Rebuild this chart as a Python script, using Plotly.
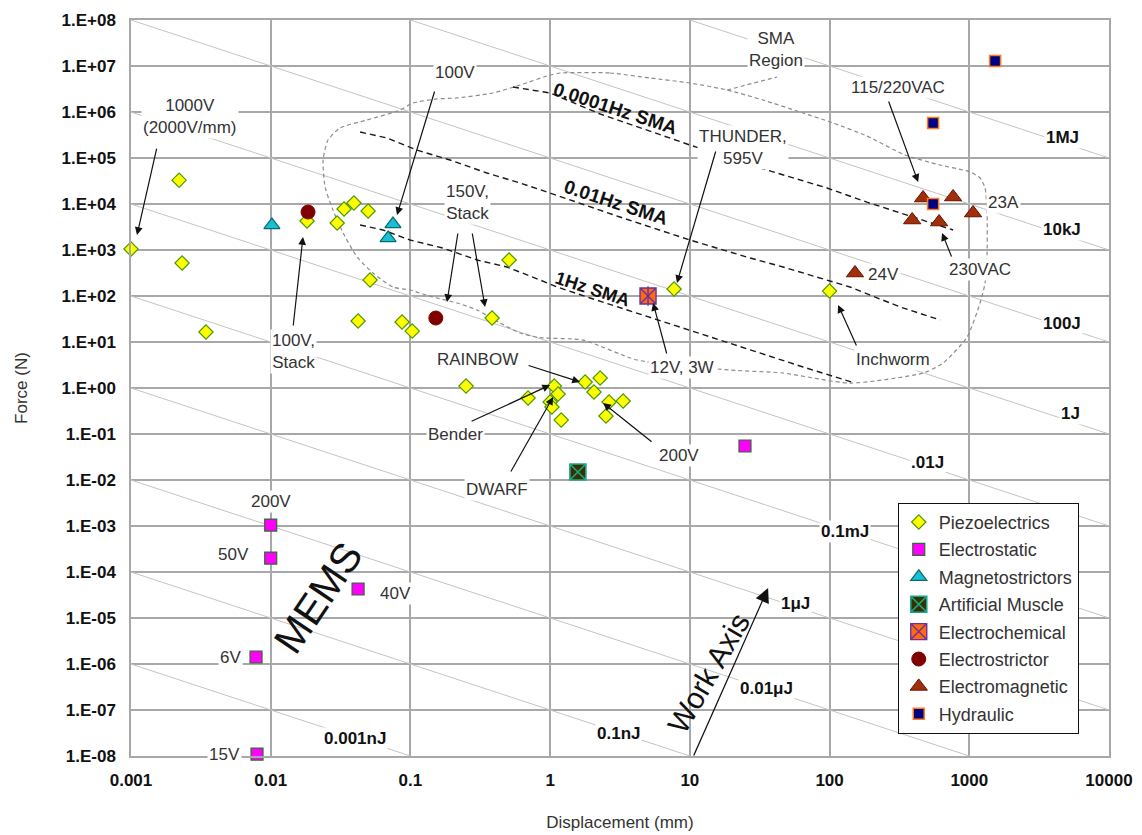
import math
import plotly.graph_objects as go

# ---------------- data (displacement in mm, force in N) ----------------
piezo_disp = [0.001, 0.00221, 0.00232, 0.00344, 0.0182, 0.0299, 0.0335, 0.0394, 0.0498, 0.0514,
              0.0422, 0.0871, 0.103, 0.384, 0.25, 0.695, 1.07, 1.14, 1.0, 1.03,
              1.2, 1.78, 2.28, 2.06, 2.64, 3.33, 2.51, 7.71, 100, 0.508]
piezo_force = [1050, 3.3e4, 521, 16.5, 4270, 3860, 7790, 1.05e4, 7050, 223,
               28.6, 27.2, 17.3, 33.2, 1.10, 0.607, 1.10, 0.741, 0.497, 0.386,
               0.201, 1.35, 1.65, 0.819, 0.497, 0.521, 0.246, 142, 128, 607]

estat_disp = [0.01, 0.01, 0.0422, 0.00785, 0.00798, 24.8]
estat_force = [1.05e-3, 2.01e-4, 4.27e-5, 1.42e-6, 1.10e-8, 0.0548]

magneto_disp = [0.0102, 0.075, 0.0692]
magneto_force = [3490, 3670, 1820]

muscle_disp = [1.58]
muscle_force = [0.0149]

echem_disp = [5.02]
echem_force = [100]

estrict_disp = [0.0185, 0.152]
estrict_force = [6700, 33.2]

emag_disp = [467, 766, 390, 608, 1064, 152]
emag_force = [1.35e4, 1.42e4, 4490, 4060, 6370, 316]

hydr_disp = [1530, 551, 551]
hydr_force = [1.28e7, 5.77e5, 1.0e4]

# constant-work lines: force * displacement (N*mm)
work_consts = [1e9, 1e7, 1e5, 1e3, 1e1, 1e-1, 1e-3, 1e-5, 1e-7, 1e-9]
work_labels = ["1MJ", "10kJ", "100J", "1J", ".01J", "0.1mJ", "1\u03bcJ", "0.01\u03bcJ", "0.1nJ", "0.001nJ"]

# SMA curves
sma_0001_disp = [0.542, 1.0, 2.28, 10.0, 31.8, 95.9, 185, 423, 766]
sma_0001_force = [3.49e6, 2.59e6, 9.05e5, 1.92e5, 6.07e4, 2.23e4, 1.10e4, 4.97e3, 2.72e3]

sma_001_disp = [0.0436, 0.0681, 0.111, 0.192, 0.353, 0.610, 1.0, 3.16, 10.0, 27.0, 46.5, 140, 320, 618]
sma_001_force = [3.67e5, 2.72e5, 1.49e5, 9.05e4, 4.72e4, 2.86e4, 1.73e4, 5.21e3, 1.65e3, 670, 427, 157, 57.7, 30.1]

sma_1_disp = [0.0436, 0.0637, 0.0993, 0.171, 0.300, 0.491, 0.847, 1.12, 1.93, 3.55, 10.0, 27.0, 64.6, 152]
sma_1_force = [3.49e3, 2.72e3, 1.65e3, 1.10e3, 607, 427, 223, 157, 90.6, 49.7, 18.2, 6.70, 2.86, 1.28]

region_disp = [1.18, 2.68, 5.19, 10.0, 18.5, 33.4, 64.6, 106, 185, 347, 618, 1014, 1194, 1297, 1340,
               1340, 1297, 1194, 964, 649, 467, 140, 46.5, 19.4, 4.19, 1.72, 0.84, 0.610, 0.438, 0.300,
               0.216, 0.145, 0.0993, 0.0750, 0.0540, 0.0415, 0.0330, 0.0279, 0.0245, 0.0237, 0.0257,
               0.0313, 0.0489, 0.0843, 0.104, 0.155, 0.216, 0.390, 0.610, 1.0, 1.18]
region_force = [7.05e6, 7.05e6, 5.48e6, 4.27e6, 3.01e6, 1.82e6, 9.51e5, 5.77e5, 3.01e5, 1.16e5, 7.05e4,
                4.97e4, 3.67e4, 2.23e4, 6.70e3, 778, 192, 70.5, 12.8, 3.49, 2.12, 1.28, 2.12, 2.46, 4.06,
                11.0, 12.5, 15.7, 25.9, 49.7, 70.5, 95, 135, 157, 316, 705, 2.34e3, 7.41e3, 2.34e4, 9.05e4,
                2.46e5, 4.49e5, 6.70e5, 1.10e6, 1.57e6, 1.92e6, 2.02e6, 2.59e6, 3.86e6, 6.37e6, 7.05e6]
region_spur_disp = [18.5, 27.0, 42.1]
region_spur_force = [3.01e6, 4.0e6, 5.77e6]

x_ticks = [0.001, 0.01, 0.1, 1, 10, 100, 1000, 10000]
x_ticktext = ["0.001", "0.01", "0.1", "1", "10", "100", "1000", "10000"]
y_ticks = [10.0 ** k for k in range(-8, 9)]
y_ticktext = [("1.E-%02d" % -k) if k < 0 else ("1.E+%02d" % k) for k in range(-8, 9)]

FONT = "Liberation Sans, Arial, sans-serif"
GRID = "#a8a8a8"

fig = go.Figure()

# work lines
wx, wy = [], []
for c in work_consts:
    wx += [0.001, 10000, None]
    wy += [c / 0.001, c / 10000, None]
fig.add_trace(go.Scatter(x=wx, y=wy, mode="lines", line=dict(color="#c4c4c4", width=1),
                         showlegend=False, hoverinfo="skip"))

# SMA region
fig.add_trace(go.Scatter(x=region_disp, y=region_force, mode="lines",
                         line=dict(color="#8c8c8c", width=1.2, dash="4px,3px", shape="spline", smoothing=0.6),
                         showlegend=False, hoverinfo="skip"))
fig.add_trace(go.Scatter(x=region_spur_disp, y=region_spur_force, mode="lines",
                         line=dict(color="#8c8c8c", width=1.2, dash="4px,3px"),
                         showlegend=False, hoverinfo="skip"))

# SMA lines
for xs, ys in [(sma_0001_disp, sma_0001_force), (sma_001_disp, sma_001_force), (sma_1_disp, sma_1_force)]:
    fig.add_trace(go.Scatter(x=xs, y=ys, mode="lines",
                             line=dict(color="#1a1a1a", width=1.4, dash="6px,4px"),
                             showlegend=False, hoverinfo="skip"))

def pts(name, xs, ys, symbol, size, fill, lcol, lw=1, group=None, show=True):
    fig.add_trace(go.Scatter(x=xs, y=ys, mode="markers", name=name, legendgroup=group or name,
                             showlegend=show, cliponaxis=False,
                             marker=dict(symbol=symbol, size=size, color=fill,
                                         line=dict(color=lcol, width=lw))))

pts("Piezoelectrics", piezo_disp, piezo_force, "diamond", 11, "#ffff00", "#4d9a00", 1.2)
pts("Electrostatic", estat_disp, estat_force, "square", 12, "#ff00ff", "#2f6b2f", 1.2)
pts("Magnetostrictors", magneto_disp, magneto_force, "triangle-up", 14, "#19bfd6", "#0b6b6b", 1.2)
pts("Artificial Muscle", muscle_disp, muscle_force, "square-x", 16, "#333300", "#1fa58a", 1.6)
pts("Electrochemical", echem_disp, echem_force, "square-x", 16, "#ff6a10", "#6a2fa0", 1.4)
pts("Electrochemical", echem_disp, echem_force, "line-ns", 14, "#6a2fa0", "#6a2fa0", 1.4,
    group="Electrochemical", show=False)
pts("Electrostrictor", estrict_disp, estrict_force, "circle", 14, "#800000", "#800000", 1)
pts("Electromagnetic", emag_disp, emag_force, "triangle-up", 15, "#a0300a", "#6a1000", 1)
pts("Hydraulic", hydr_disp, hydr_force, "square", 11, "#000080", "#ff7a1a", 1.5)

ann = []
TXT = "#333333"

def label(text, ld, lf, size=17, color=TXT, bold=False, angle=0, bg="white"):
    ann.append(dict(text=text, x=ld, y=lf, xref="x", yref="y", showarrow=False,
                    font=dict(family=FONT, size=size, color=color, weight="bold" if bold else "normal"),
                    bgcolor=bg, textangle=angle, borderpad=1))

def arrow(tl, tf, hl, hf, head=2, asz=1.3, aw=1.2):
    ann.append(dict(text="", x=hl, y=hf, ax=tl, ay=tf, xref="x", yref="y", axref="x", ayref="y",
                    showarrow=True, arrowhead=head, arrowsize=asz, arrowwidth=aw, arrowcolor="#111111",
                    standoff=0, startstandoff=0))

# work labels (positions in log10 axis units)
work_label_pos = [(3.664, 5.435), (3.664, 3.435), (3.664, 1.413), (3.722, -0.565), (2.698, -1.630),
                  (2.111, -3.130), (1.753, -4.674), (1.545, -6.522), (0.486, -7.5), (-1.397, -7.609)]
for t, (lx, ly) in zip(work_labels, work_label_pos):
    label(t, lx, ly, size=17, color="#111111", bold=True)

# SMA labels
label("0.0001Hz SMA", 0.465, 6.087, size=19, color="#111111", bold=True, angle=18, bg="rgba(0,0,0,0)")
label("0.01Hz SMA", 0.472, 4.022, size=19, color="#111111", bold=True, angle=18, bg="rgba(0,0,0,0)")
label("1Hz SMA", 0.300, 2.152, size=18, color="#111111", bold=True, angle=18, bg="rgba(0,0,0,0)")

# text labels
label("1000V<br>(2000V/mm)", -2.578, 5.913)
label("100V", -0.681, 6.848)
label("100V,<br>Stack", -1.840, 0.783)
label("150V,<br>Stack", -0.595, 4.043)
label("THUNDER,<br>595V", 1.381, 5.239)
label("SMA<br>Region", 1.617, 7.348)
label("115/220VAC", 2.490, 6.543)
label("23A", 3.242, 4.043)
label("230VAC", 3.077, 2.587)
label("24V", 2.383, 2.457)
label("Inchworm", 2.455, 0.609)
label("12V, 3W", 0.944, 0.435)
label("RAINBOW", -0.523, 0.630)
label("Bender", -0.674, -1.0)
label("DWARF", -0.380, -2.196)
label("200V", 0.923, -1.457)
label("200V", -2.0, -2.478)
label("50V", -2.263, -3.630)
label("40V", -1.110, -4.457)
label("6V", -2.291, -5.848)
label("15V", -2.334, -7.978)
label("MEMS", -1.661, -4.565, size=41, color="#111111", angle=-56, bg="rgba(0,0,0,0)")
label("Work Axis", 1.130, -6.196, size=30, color="#111111", angle=-60, bg="rgba(0,0,0,0)")

# arrows (tail -> head, log10 axis units)
arrow(-2.814, 5.239, -2.957, 3.326)
arrow(-0.824, 6.478, -1.096, 3.761)
arrow(-1.840, 1.326, -1.769, 3.283)
arrow(-0.659, 3.391, -0.738, 1.870)
arrow(-0.559, 3.391, -0.466, 1.761)
arrow(1.188, 5.174, 0.908, 2.283)
arrow(2.419, 6.261, 2.634, 4.478)
arrow(2.877, 2.826, 2.805, 3.370)
arrow(2.197, 0.891, 2.061, 1.804)
arrow(0.837, 0.717, 0.737, 1.848)
arrow(-0.165, 0.5, 0.214, 0.130)
arrow(-0.573, -0.739, 0.0, 0.065)
arrow(-0.287, -1.848, 0.021, -0.196)
arrow(0.737, -1.196, 0.379, -0.326)
arrow(1.023, -8.02, 1.560, -4.348, head=2, asz=2.2, aw=1.3)

axis_common = dict(type="log", showgrid=True, gridcolor=GRID, gridwidth=1.5, zeroline=False,
                   showline=True, mirror=True, linecolor=GRID, linewidth=1.5, ticks="",
                   automargin=False,
                   tickfont=dict(family=FONT, size=17, color="#111111", weight="bold"))

fig.update_layout(
    width=1142, height=835,
    margin=dict(l=131, r=33, t=20, b=79, autoexpand=False),
    paper_bgcolor="white", plot_bgcolor="white",
    font=dict(family=FONT, color="#333333"),
    xaxis=dict(range=[-3, 4], tickvals=x_ticks, ticktext=x_ticktext, ticklabelstandoff=8,
               title=dict(text="Displacement (mm)", font=dict(family=FONT, size=17, color="#333333"),
                          standoff=27),
               **axis_common),
    yaxis=dict(range=[-8, 8], tickvals=y_ticks, ticktext=y_ticktext, ticklabelstandoff=10,
               title=dict(text="Force (N)", font=dict(family=FONT, size=17, color="#333333"),
                          standoff=30),
               **axis_common),
    legend=dict(x=0.784, y=0.344, xanchor="left", yanchor="top", bgcolor="white",
                bordercolor="#111111", borderwidth=1, tracegroupgap=1, itemwidth=30,
                font=dict(family=FONT, size=18, color="#333333")),
    annotations=ann,
    showlegend=True,
)

fig.write_html("out.html", config={"displayModeBar": False},
               post_script="document.body.style.margin='0';document.body.style.padding='0';")
